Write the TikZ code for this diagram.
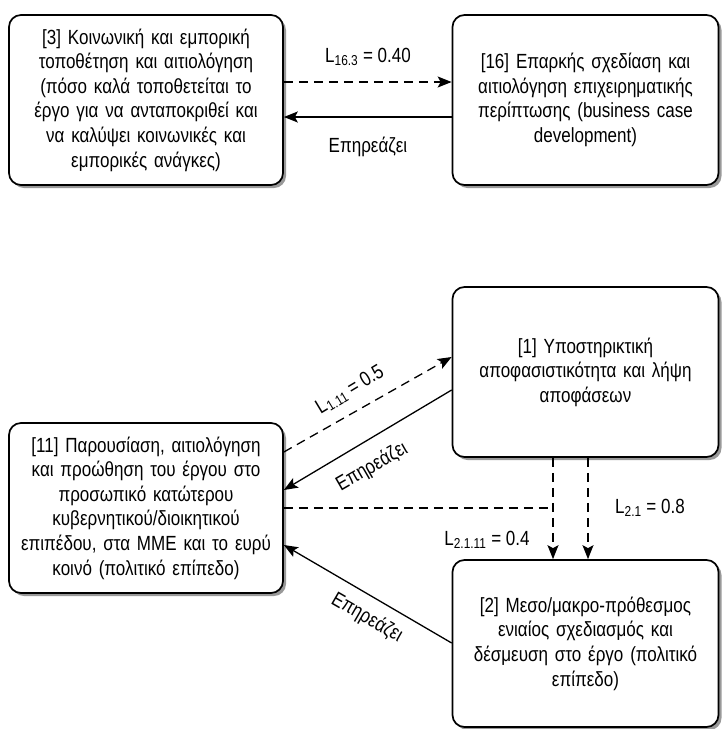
\documentclass[tikz,border=0pt]{standalone}
\usepackage{fontspec}
\setmainfont{Liberation Sans}[FakeStretch=0.83]
\usetikzlibrary{arrows.meta,shadows}

\tikzset{
  txt/.style={font=\fontsize{20.5}{24.6}\selectfont, inner sep=0pt},
  box/.style={txt, draw, line width=1.7pt, rounded corners=12pt, fill=white,
    drop shadow={shadow xshift=3pt, shadow yshift=-3pt, fill=black!40, opacity=1},
    align=center, minimum width=274pt, minimum height=170pt, text width=266pt},
  link/.style={line width=1.3pt},
  tip/.style={-{Stealth[length=14pt,width=11pt,inset=3pt]}},
  dashlink/.style={link, dash pattern=on 9pt off 6pt},
  lbl/.style={txt},
}

\begin{document}
\begin{tikzpicture}[x=1pt,y=-1pt]
\useasboundingbox (0,0) rectangle (721,729);

% boxes
\node[box] (n3) at (146,100) {[3] Κοινωνική και εμπορική\\ τοποθέτηση και αιτιολόγηση\\ (πόσο καλά τοποθετείται το\\ έργο για να ανταποκριθεί και\\ να καλύψει κοινωνικές και\\ εμπορικές ανάγκες)};
\node[box, minimum width=265pt] (n16) at (585.5,100) {[16] Επαρκής σχεδίαση και\\ αιτιολόγηση επιχειρηματικής\\ περίπτωσης (business case\\ development)};
\node[box, minimum width=265pt] (n1) at (585.5,372) {[1] Υποστηρικτική\\ αποφασιστικότητα και λήψη\\ αποφάσεων};
\node[box] (n11) at (146,508) {[11] Παρουσίαση, αιτιολόγηση\\ και προώθηση του έργου στο\\ προσωπικό κατώτερου\\ κυβερνητικού/διοικητικού\\ επιπέδου, στα ΜΜΕ και το ευρύ\\ κοινό (πολιτικό επίπεδο)};
\node[box, minimum width=265pt, minimum height=167pt] (n2) at (585.5,643.5) {[2] Μεσο/μακρο-πρόθεσμος\\ ενιαίος σχεδιασμός και\\ δέσμευση στο έργο (πολιτικό\\ επίπεδο)};

% links between [3] and [16]
\draw[dashlink, tip] (n3.east |- 0,82) -- (n16.west |- 0,82);
\draw[link, tip] (n16.west |- 0,117) -- (n3.east |- 0,117);
\node[lbl] (l163) at (368,57) {L\textsubscript{16.3} = 0.40};
\node[lbl] (e163) at (368,147) {Επηρεάζει};

% links between [11] and [1]
\draw[dashlink, tip] (n11.east |- 0,452) -- (n1.west |- 0,357);
\draw[link, tip] (n1.west |- 0,390) -- (n11.east |- 0,490);
\node[lbl, rotate=31] (l111) at (350,390) {L\textsubscript{1.11} = 0.5};
\node[lbl, rotate=30] (e111) at (372,467) {Επηρεάζει};

% links into [2]
\coordinate (j) at (553,508);
\draw[dashlink] (n11.east |- j) -- (j);
\draw[dashlink, tip] (n1.south -| j) -- (n2.north -| j);
\draw[dashlink, tip] (n1.south -| 588,0) -- (n2.north -| 588,0);
\node[lbl] (l21) at (650,508) {L\textsubscript{2.1} = 0.8};
\node[lbl] (l2111) at (487,540) {L\textsubscript{2.1.11} = 0.4};

% link from [2] to [11]
\draw[link, tip] (n2.west |- 0,643) -- (n11.east |- 0,545);
\node[lbl, rotate=-30] (e211) at (367,618) {Επηρεάζει};
\end{tikzpicture}
\end{document}
